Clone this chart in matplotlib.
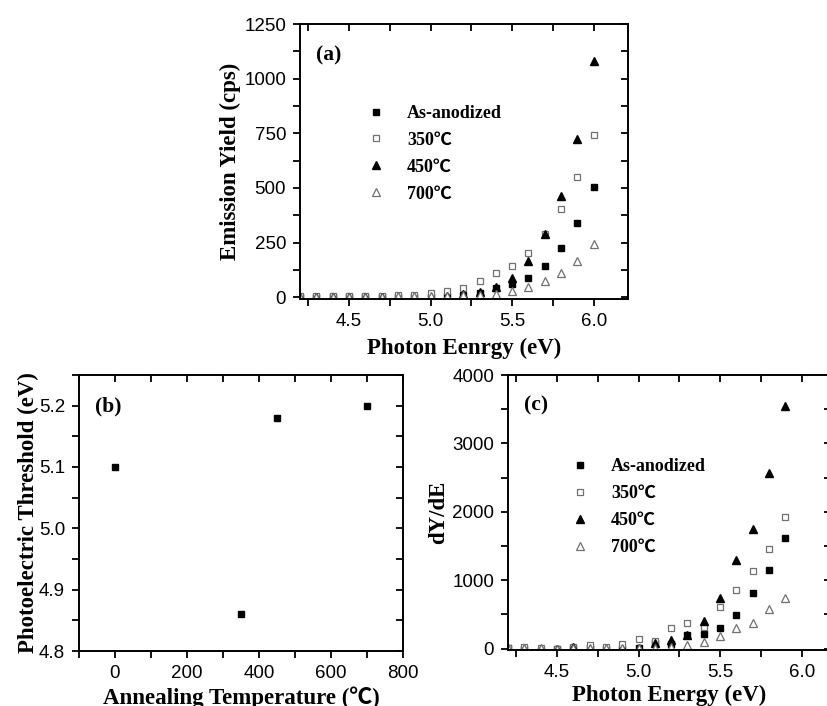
import matplotlib.pyplot as plt
from matplotlib.ticker import MultipleLocator

plt.rcParams['font.family'] = ['Liberation Sans', 'DejaVu Sans']

# photon energies (eV)
energy = [4.2, 4.3, 4.4, 4.5, 4.6, 4.7, 4.8, 4.9, 5.0, 5.1,
          5.2, 5.3, 5.4, 5.5, 5.6, 5.7, 5.8, 5.9, 6.0]

# emission yield (cps)
yield_as = [0, 0, 0, 0, 1, 1, 1, 2, 3, 5, 12, 20, 40, 59, 89, 141, 224, 339, 503]
yield_350 = [4, 4, 4, 5, 5, 6, 8, 12, 19, 30, 42, 73, 109, 142, 203, 290, 405, 548, 744]
yield_450 = [0, 0, 0, 1, 1, 1, 2, 2, 3, 4, 14, 26, 48, 89, 167, 291, 465, 723, 1080]
yield_700 = [3, 3, 3, 3, 3, 3, 4, 5, 5, 6, 8, 10, 15, 29, 45, 74, 112, 168, 242]

# derivative dY/dE on 4.2 .. 5.9 eV
energy_d = energy[:-1]
dyde_as = [5, 0, -40, 0, 15, 10, -10, 0, 15, 88, 64, 197, 221, 295, 497, 817, 1156, 1614]
dyde_350 = [10, 20, 5, 0, 30, 49, 20, 64, 138, 113, 295, 374, 320, 605, 856, 1132, 1451, 1924]
dyde_450 = [0, 0, 0, 0, 30, 0, 0, 0, 5, 89, 128, 202, 408, 738, 1289, 1747, 2563, 3547]
dyde_700 = [15, 15, 15, 0, 10, 15, 10, 15, 10, 15, 30, 54, 103, 187, 295, 369, 580, 738]

# photoelectric threshold vs annealing temperature
anneal_temp = [0, 350, 450, 700]
threshold = [5.10, 4.86, 5.18, 5.20]

labels = ['As-anodized', '350℃', '450℃', '700℃']
serif = ['Liberation Serif', 'Noto Sans CJK SC', 'DejaVu Serif']
gray = '#707070'
styles = [dict(marker='s', color='black', ms=4.5),
          dict(marker='s', mfc='white', mec=gray, ms=5, mew=0.9),
          dict(marker='^', color='black', ms=5.5),
          dict(marker='^', mfc='white', mec=gray, ms=6, mew=0.9)]
label_font = dict(family=serif, weight='bold', fontsize=16.5)
legend_font = dict(family=serif, weight='bold', size=13)


def mirror_inward(ax):
    # overlay sharing limits, only used for the inward ticks on top/right
    tw = ax.figure.add_axes(ax.get_position(), frameon=False, sharex=ax, sharey=ax)
    tw.tick_params(which='both', direction='in', length=5, width=1.3,
                   top=True, right=True, bottom=False, left=False,
                   labelbottom=False, labelleft=False)
    tw.patch.set_visible(False)
    return tw


fig = plt.figure(figsize=(8.27, 7.06), dpi=100)

# (a) emission yield
ax_a = fig.add_axes([0.3628, 0.5765, 0.3966, 0.3895])
for ys, lab, st in zip([yield_as, yield_350, yield_450, yield_700], labels, styles):
    ax_a.plot(energy, ys, ls='none', label=lab, **st)
ax_a.set_xlim(4.2, 6.21)
ax_a.set_ylim(-8, 1250)
ax_a.xaxis.set_major_locator(MultipleLocator(0.5))
ax_a.xaxis.set_minor_locator(MultipleLocator(0.25))
ax_a.yaxis.set_major_locator(MultipleLocator(250))
ax_a.yaxis.set_minor_locator(MultipleLocator(125))
ax_a.set_xlabel('Photon Eenrgy (eV)', labelpad=6, **label_font)
ax_a.set_ylabel('Emission Yield (cps)', labelpad=2, **label_font)
ax_a.text(0.05, 0.885, '(a)', transform=ax_a.transAxes, family=serif, weight='bold',
          fontsize=15.5, va='center')
ax_a.legend(loc='upper left', bbox_to_anchor=(0.155, 0.765), frameon=False,
            prop=legend_font, handletextpad=1.2, labelspacing=0.55, handlelength=1.0)

# (b) threshold
ax_b = fig.add_axes([0.0955, 0.0779, 0.3918, 0.391])
ax_b.plot(anneal_temp, threshold, ls='none', marker='s', color='black', ms=5)
ax_b.set_xlim(-100, 800)
ax_b.set_ylim(4.8, 5.25)
ax_b.xaxis.set_major_locator(MultipleLocator(200))
ax_b.xaxis.set_minor_locator(MultipleLocator(100))
ax_b.yaxis.set_major_locator(MultipleLocator(0.1))
ax_b.yaxis.set_minor_locator(MultipleLocator(0.05))
ax_b.set_xlabel('Annealing Temperature (℃)', labelpad=3, **label_font)
ax_b.set_ylabel('Photoelectric Threshold (eV)', labelpad=0, **label_font)
ax_b.text(0.05, 0.885, '(b)', transform=ax_b.transAxes, family=serif, weight='bold',
          fontsize=15.5, va='center')

# (c) derivative
ax_c = fig.add_axes([0.6143, 0.0793, 0.3906, 0.3895])
for ys, lab, st in zip([dyde_as, dyde_350, dyde_450, dyde_700], labels, styles):
    ax_c.plot(energy_d, ys, ls='none', label=lab, **st)
ax_c.set_xlim(4.2, 6.18)
ax_c.set_ylim(-20, 4000)
ax_c.xaxis.set_major_locator(MultipleLocator(0.5))
ax_c.xaxis.set_minor_locator(MultipleLocator(0.25))
ax_c.yaxis.set_major_locator(MultipleLocator(1000))
ax_c.yaxis.set_minor_locator(MultipleLocator(500))
ax_c.set_xlabel('Photon Energy (eV)', labelpad=3, **label_font)
ax_c.set_ylabel('dY/dE', labelpad=2, **label_font)
ax_c.text(0.05, 0.89, '(c)', transform=ax_c.transAxes, family=serif, weight='bold',
          fontsize=15.5, va='center')
ax_c.legend(loc='upper left', bbox_to_anchor=(0.145, 0.757), frameon=False,
            prop=legend_font, handletextpad=1.2, labelspacing=0.55, handlelength=1.0)

for ax in (ax_a, ax_b, ax_c):
    ax.tick_params(which='both', direction='out', length=5, width=1.3, labelsize=13.5,
                   top=False, right=False, pad=5)
    for sp in ax.spines.values():
        sp.set_linewidth(1.4)
    mirror_inward(ax)

fig.savefig('out.png', dpi=100)
